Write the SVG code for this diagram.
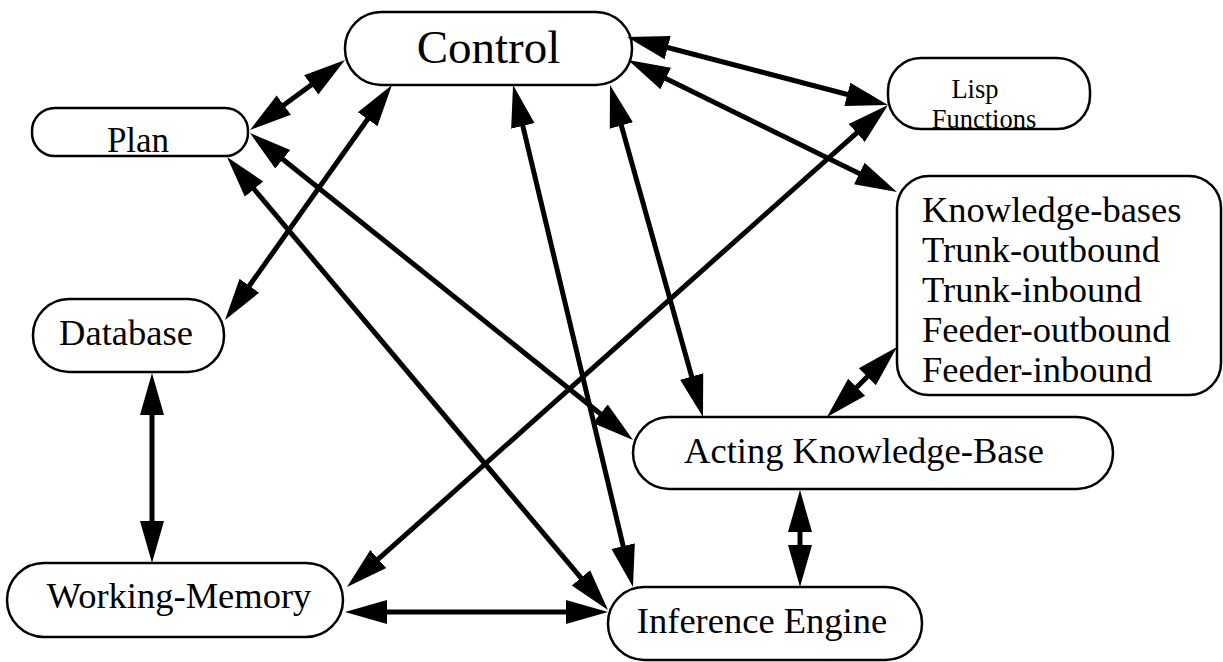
<svg xmlns="http://www.w3.org/2000/svg" width="1223" height="662" viewBox="0 0 1223 662">
  <style>
    .node rect { fill: #fff; stroke: #000; stroke-width: 2.5; }
    .node text { font-family: "Liberation Serif", "Times New Roman", serif; font-size: 36.5px; fill: #000; }
    .mid { text-anchor: middle; }
    .link { stroke: #000; stroke-width: 5; fill: none; marker-start: url(#head); marker-end: url(#head); }
  </style>
  <defs>
    <marker id="head" markerUnits="userSpaceOnUse" markerWidth="42" markerHeight="26" viewBox="0 -13 42 26" refX="22" refY="0" orient="auto-start-reverse">
      <path d="M0,-12 L42,0 L0,12 Z" fill="#000"/>
    </marker>
  </defs>

  <!-- boxes -->
  <g id="control" class="node">
    <rect x="345" y="12" width="287" height="73" rx="36"/>
    <text class="mid" x="488.5" y="63" style="font-size:47px">Control</text>
  </g>
  <g id="plan" class="node">
    <rect x="32" y="108" width="216" height="48" rx="23"/>
    <text class="mid" x="138" y="152" style="font-size:35px">Plan</text>
  </g>
  <g id="lisp-functions" class="node">
    <rect x="888" y="58" width="202" height="71" rx="33"/>
    <text class="mid" x="975" y="98" style="font-size:26.5px">Lisp</text>
    <text class="mid" x="984" y="128" style="font-size:26.5px">Functions</text>
  </g>
  <g id="knowledge-bases" class="node">
    <rect x="897" y="176" width="324" height="219" rx="32"/>
    <text x="922" y="222">Knowledge-bases</text>
    <text x="922" y="262">Trunk-outbound</text>
    <text x="922" y="302">Trunk-inbound</text>
    <text x="922" y="342">Feeder-outbound</text>
    <text x="922" y="382">Feeder-inbound</text>
  </g>
  <g id="database" class="node">
    <rect x="33" y="299" width="191" height="73" rx="36"/>
    <text class="mid" x="126" y="345">Database</text>
  </g>
  <g id="working-memory" class="node">
    <rect x="7" y="563" width="336" height="74" rx="37"/>
    <text class="mid" x="179" y="608">Working-Memory</text>
  </g>
  <g id="acting-kb" class="node">
    <rect x="633" y="417" width="480" height="72" rx="36"/>
    <text class="mid" x="864" y="463">Acting Knowledge-Base</text>
  </g>
  <g id="inference-engine" class="node">
    <rect x="608" y="587" width="314" height="73" rx="36"/>
    <text class="mid" x="762" y="633">Inference Engine</text>
  </g>

  <!-- two-way links; each end stops 20px short of the arrow tip -->
  <g id="connectors">
    <line class="link" x1="266.1" y1="118.1" x2="328.9" y2="71.9"/>
    <line class="link" x1="236.6" y1="303.7" x2="380.4" y2="101.3"/>
    <line class="link" x1="628.3" y1="567.5" x2="517.7" y2="104.5"/>
    <line class="link" x1="697.6" y1="397.7" x2="615.4" y2="104.3"/>
    <line class="link" x1="868.6" y1="100.0" x2="646.4" y2="42.0"/>
    <line class="link" x1="879.0" y1="183.2" x2="646.0" y2="68.8"/>
    <line class="link" x1="265.6" y1="145.5" x2="617.4" y2="427.5"/>
    <line class="link" x1="239.9" y1="172.3" x2="595.1" y2="594.7"/>
    <line class="link" x1="152" y1="393" x2="152" y2="543"/>
    <line class="link" x1="365" y1="612" x2="588" y2="612"/>
    <line class="link" x1="361.9" y1="573.7" x2="873.1" y2="118.3"/>
    <line class="link" x1="882.9" y1="361.1" x2="841.1" y2="402.9"/>
    <line class="link" x1="800" y1="510" x2="800" y2="567"/>
  </g>
</svg>
